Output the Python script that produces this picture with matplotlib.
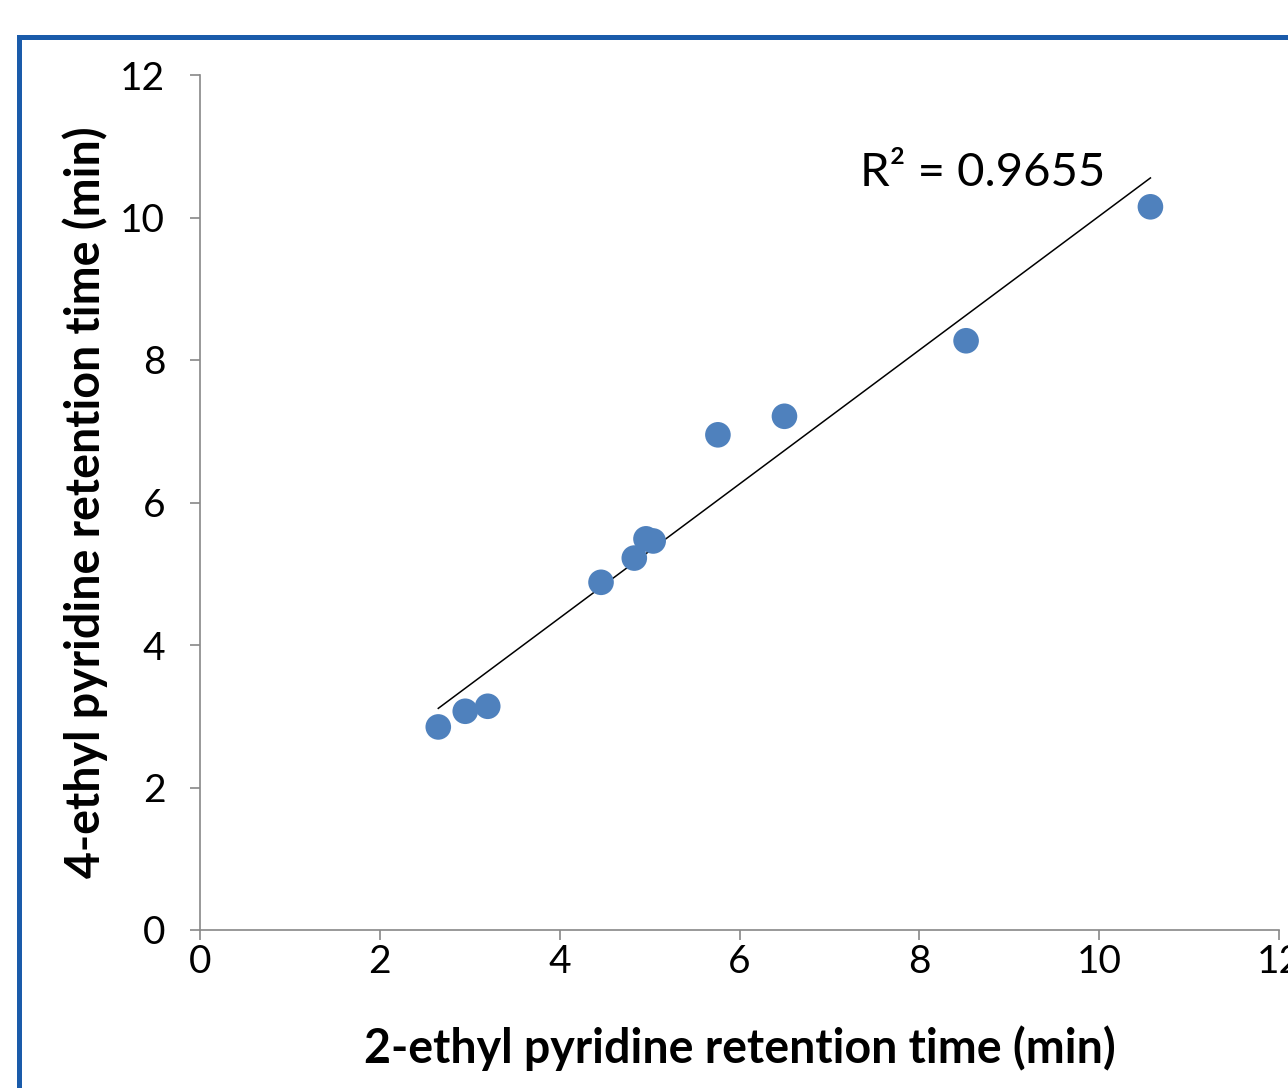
import numpy as np
import matplotlib
matplotlib.use("Agg")
import matplotlib.pyplot as plt
from matplotlib.patches import Rectangle

plt.rcParams["font.family"] = ["Lato", "DejaVu Sans"]

# retention times (min)
x_2ethyl = [2.65, 2.95, 3.20, 4.46, 4.83, 4.96, 5.04, 5.76, 6.50, 8.52, 10.57]
y_4ethyl = [2.85, 3.07, 3.14, 4.88, 5.22, 5.49, 5.46, 6.95, 7.21, 8.27, 10.15]
ticks = [0, 2, 4, 6, 8, 10, 12]
r2_text = "R\u00b2 = 0.9655"

W, H = 1288, 1088
fig = plt.figure(figsize=(W / 100, H / 100), dpi=100)

# blue frame, runs off the right and bottom edges
fig.patches.append(Rectangle((18.5 / W, 0 - 0.1), 1.2, 1 - 37.5 / H + 0.1,
                             transform=fig.transFigure, fill=False,
                             edgecolor="#1A5BAA", linewidth=3.6))

ax = fig.add_axes([200 / W, 1 - 930 / H, 1079 / W, 855 / H])

xs = np.array(x_2ethyl)
ys = np.array(y_4ethyl)
k, b = np.polyfit(xs, ys, 1)
xl = np.array([xs.min(), xs.max()])
ax.plot(xl, k * xl + b, color="black", linewidth=1.1, zorder=2)
ax.scatter(xs, ys, s=340, color="#4F81BD", edgecolors="none", zorder=3)

ax.text(7.34, 10.62, r2_text, fontsize=34, va="center", ha="left")

ax.set_xlim(0, 12)
ax.set_ylim(0, 12)
ax.set_xticks(ticks)
ax.set_yticks(ticks)
ax.tick_params(direction="out", length=7, width=1.2, color="#888888",
               labelsize=28)
ax.tick_params(axis="x", pad=3)
ax.tick_params(axis="y", pad=18)
for side in ["top", "right"]:
    ax.spines[side].set_visible(False)
for side in ["left", "bottom"]:
    ax.spines[side].set_color("#888888")
    ax.spines[side].set_linewidth(1.2)

ax.set_xlabel("2-ethyl pyridine retention time (min)", fontsize=33.5,
              fontweight="bold", labelpad=33)
ax.set_ylabel("4-ethyl pyridine retention time (min)", fontsize=33.5,
              fontweight="bold", labelpad=9)

fig.savefig("out.png", dpi=100)
